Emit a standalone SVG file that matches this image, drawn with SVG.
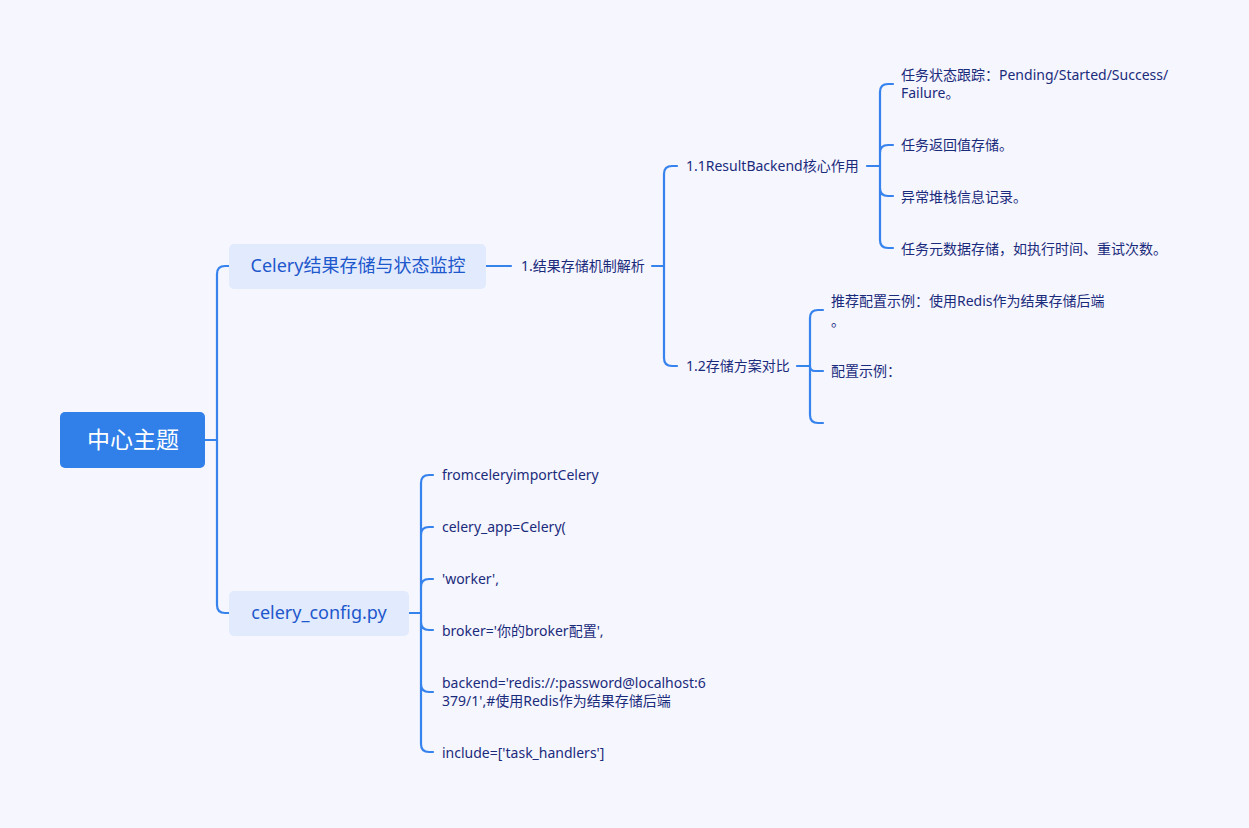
<svg xmlns="http://www.w3.org/2000/svg" width="1249" height="828" viewBox="0 0 1249 828">
<style>
.bg{fill:#f5f6fe}
.ln{fill:none;stroke:#3783ee;stroke-width:2.2;stroke-linecap:round}
.root{fill:#3180ea}
.sub{fill:#e2eafd}
.t{font-family:"Noto Sans","Noto Sans CJK SC",sans-serif;}
.rt{font-size:23px;fill:#ffffff}
.st{font-size:18px;fill:#1d58cc}
.lt{font-size:14px;fill:#1b2b7c}
</style>
<rect class="bg" x="0" y="0" width="1249" height="828"/>
<g id="connectors">
<path class="ln" d="M205 440 H217 M217 440 V274 Q217 266 225 266 H229 M217 440 V605 Q217 613 225 613 H229"/>
<path class="ln" d="M486 266 H511"/>
<path class="ln" d="M652 266 H664 M664 266 V174 Q664 166 672 166 H677 M664 266 V358 Q664 366 672 366 H677"/>
<path class="ln" d="M867 166 H880 M880 166 V92 Q880 84 888 84 H893 M880 166 V153 Q880 145 888 145 H893 M880 166 V188 Q880 196 888 196 H893 M880 166 V240 Q880 248 888 248 H893"/>
<path class="ln" d="M797 366 H810 M810 366 V318 Q810 310 818 310 H823 M810 366 Q810 371 815 371 H823 M810 366 V415 Q810 423 818 423 H823"/>
<path class="ln" d="M409 613 H421 M421 613 V483 Q421 475 429 475 H433 M421 613 V535 Q421 527 429 527 H433 M421 613 V587 Q421 579 429 579 H433 M421 613 V622 Q421 630 429 630 H433 M421 613 V684 Q421 692 429 692 H433 M421 613 V744 Q421 752 429 752 H433"/>
</g>
<g id="root">
<rect class="root" x="60" y="412" width="145" height="56" rx="5"/>
<text class="t rt" x="133" y="448" text-anchor="middle">中心主题</text>
</g>
<g id="n-celery">
<rect class="sub" x="229" y="244" width="257" height="45" rx="5"/>
<text class="t st" x="358" y="272" text-anchor="middle">Celery结果存储与状态监控</text>
</g>
<g id="n-config">
<rect class="sub" x="229" y="591" width="180" height="45" rx="5"/>
<text class="t st" x="319" y="619" text-anchor="middle">celery_config.py</text>
</g>
<g id="n-1">
<text class="t lt" x="521" y="271">1.结果存储机制解析</text>
</g>
<g id="n-1-1">
<text class="t lt" x="686" y="171">1.1ResultBackend核心作用</text>
</g>
<g id="n-1-2">
<text class="t lt" x="686" y="371">1.2存储方案对比</text>
</g>
<g id="n-1-1-a">
<text class="t lt" x="901" y="80">任务状态跟踪：Pending/Started/Success/</text>
<text class="t lt" x="901" y="98">Failure。</text>
</g>
<g id="n-1-1-b">
<text class="t lt" x="901" y="150">任务返回值存储。</text>
</g>
<g id="n-1-1-c">
<text class="t lt" x="901" y="202">异常堆栈信息记录。</text>
</g>
<g id="n-1-1-d">
<text class="t lt" x="901" y="254">任务元数据存储，如执行时间、重试次数。</text>
</g>
<g id="n-1-2-a">
<text class="t lt" x="831" y="306">推荐配置示例：使用Redis作为结果存储后端</text>
<text class="t lt" x="831" y="326">。</text>
</g>
<g id="n-1-2-b">
<text class="t lt" x="831" y="376">配置示例：</text>
</g>
<g id="n-2-a"><text class="t lt" x="442" y="480">fromceleryimportCelery</text></g>
<g id="n-2-b"><text class="t lt" x="442" y="532">celery_app=Celery(</text></g>
<g id="n-2-c"><text class="t lt" x="442" y="584">'worker',</text></g>
<g id="n-2-d"><text class="t lt" x="442" y="636">broker='你的broker配置',</text></g>
<g id="n-2-e">
<text class="t lt" x="442" y="688">backend='redis://:password@localhost:6</text>
<text class="t lt" x="442" y="706">379/1',#使用Redis作为结果存储后端</text>
</g>
<g id="n-2-f"><text class="t lt" x="442" y="758">include=['task_handlers']</text></g>
</svg>
